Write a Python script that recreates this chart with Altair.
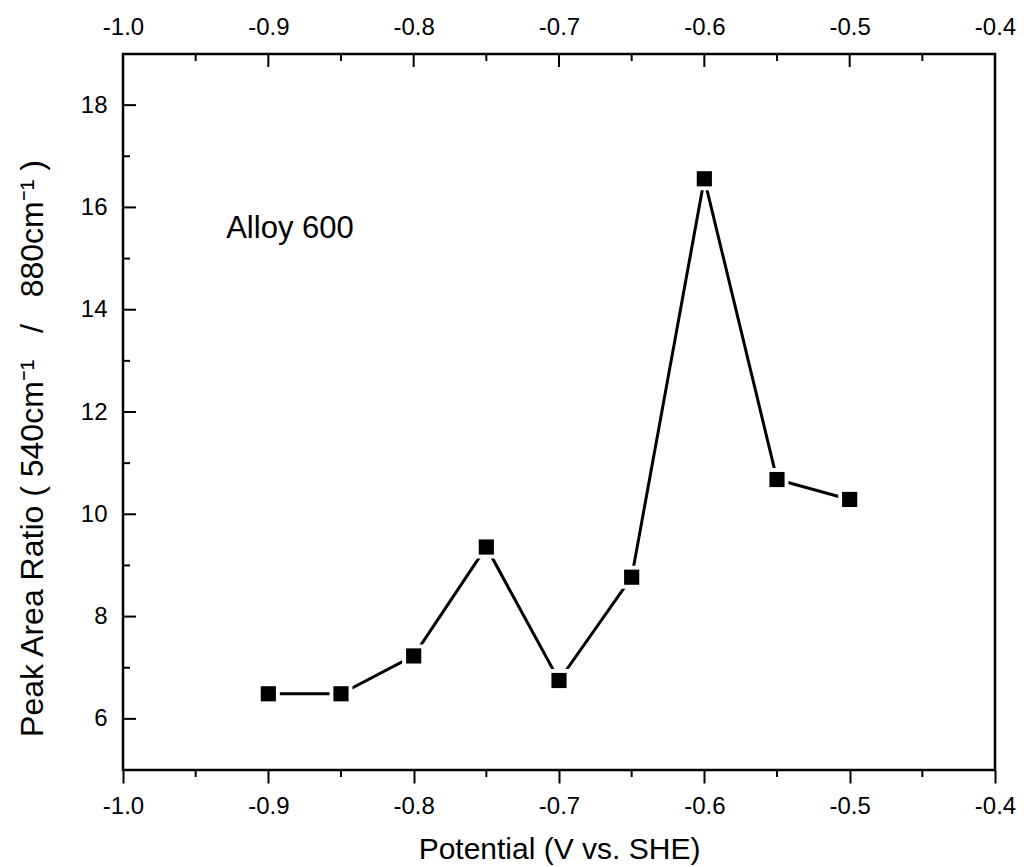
import altair as alt
import pandas as pd

# ---- data ----
potential = [-0.9, -0.85, -0.8, -0.75, -0.7, -0.65, -0.6, -0.55, -0.5]
ratio = [6.49, 6.49, 7.23, 9.36, 6.75, 8.77, 16.56, 10.68, 10.29]

x_major = [-1.0, -0.9, -0.8, -0.7, -0.6, -0.5, -0.4]
x_minor = [-0.95, -0.85, -0.75, -0.65, -0.55, -0.45]
y_major = [6, 8, 10, 12, 14, 16, 18]
y_minor = [7, 9, 11, 13, 15, 17]

label_text = ["Alloy 600"]
label_x = [-0.929]
label_y = [15.4]

x_title = "Potential (V vs. SHE)"
NB = "\u00a0"
y_title = ("Peak Area Ratio (" + NB + "540cm\u207b\u00b9" + NB * 3 + "/" + NB * 3
           + "880cm\u207b\u00b9" + NB + ")")

# ---- style ----
W, H = 872, 716
FONT = "Liberation Sans"
TICK_FS = 24
xs = alt.Scale(domain=[-1.0, -0.4], nice=False, zero=False)
ys = alt.Scale(domain=[5, 19], nice=False, zero=False)
lab = "replace(format(datum.value, '.1f'), '\u2212', '-')"

df = pd.DataFrame({"potential": potential, "ratio": ratio})
df_xmaj = pd.DataFrame({"v": x_major})
df_xmin = pd.DataFrame({"v": x_minor})
df_ymaj = pd.DataFrame({"v": y_major})
df_ymin = pd.DataFrame({"v": y_minor})
df_lab = pd.DataFrame({"t": label_text, "x": label_x, "y": label_y})

bottom_axis = alt.Axis(
    orient="bottom", values=x_major, labelExpr=lab, title=x_title,
    domain=False, ticks=True, tickSize=13, tickWidth=2, tickColor="black",
    labelFont=FONT, labelFontSize=TICK_FS, labelColor="black",
    labelPadding=30, labelBaseline="alphabetic", labelFlush=False, labelOverlap=False,
    titleFont=FONT, titleFontSize=30, titleFontWeight="normal", titleColor="black",
    titleY=88, titleBaseline="alphabetic", grid=False,
)
top_axis = alt.Axis(
    orient="top", values=x_major, labelExpr=lab, title=None,
    domain=False, ticks=False,
    labelFont=FONT, labelFontSize=TICK_FS, labelColor="black",
    labelPadding=20, labelBaseline="alphabetic", labelFlush=False, labelOverlap=False,
    grid=False,
)
left_axis = alt.Axis(
    orient="left", values=y_major, title=y_title, format="d",
    domain=False, ticks=False,
    labelFont=FONT, labelFontSize=TICK_FS, labelColor="black", labelPadding=16,
    titleFont=FONT, titleFontSize=32, titleFontWeight="normal", titleColor="black",
    titleX=-81, titleY=394, titleBaseline="alphabetic", grid=False,
)

line = alt.Chart(df).mark_line(color="black", strokeWidth=3).encode(
    x=alt.X("potential:Q", scale=xs, axis=bottom_axis),
    y=alt.Y("ratio:Q", scale=ys, axis=left_axis),
)
gaps = alt.Chart(df).mark_point(shape="square", filled=True, color="white", opacity=1, size=529).encode(
    x=alt.X("potential:Q", scale=xs, axis=top_axis),
    y=alt.Y("ratio:Q", scale=ys, axis=None),
)
pts = alt.Chart(df).mark_point(shape="square", filled=True, color="black", opacity=1, size=230).encode(
    x=alt.X("potential:Q", scale=xs, axis=None),
    y=alt.Y("ratio:Q", scale=ys, axis=None),
)

def xrule(d, y0, y1):
    return alt.Chart(d).mark_rule(color="black", strokeWidth=2).encode(
        x=alt.X("v:Q", scale=xs, axis=None), y=alt.value(y0), y2=alt.value(y1))

def yrule(d, x0, x1):
    return alt.Chart(d).mark_rule(color="black", strokeWidth=2).encode(
        y=alt.Y("v:Q", scale=ys, axis=None), x=alt.value(x0), x2=alt.value(x1))

ticks = [
    xrule(df_xmaj, 0, 13), xrule(df_xmin, 0, 7),
    xrule(df_xmin, H, H + 7),
    yrule(df_ymaj, 0, 13), yrule(df_ymin, 0, 7),
]

text = alt.Chart(df_lab).mark_text(
    align="left", baseline="alphabetic", font=FONT, fontSize=31, color="black"
).encode(
    x=alt.X("x:Q", scale=xs, axis=None),
    y=alt.Y("y:Q", scale=ys, axis=None),
    text="t:N",
)

chart = alt.layer(line, gaps, pts, *ticks, text).resolve_axis(
    x="independent", y="independent"
).properties(
    width=W, height=H,
    autosize=alt.AutoSizeParams(type="none"),
    padding={"left": 115, "top": 46, "right": 21, "bottom": 97},
    background="white",
).configure_view(stroke="black", strokeWidth=2.5)

chart.save("out.html", embed_options={"renderer": "svg", "actions": False})
